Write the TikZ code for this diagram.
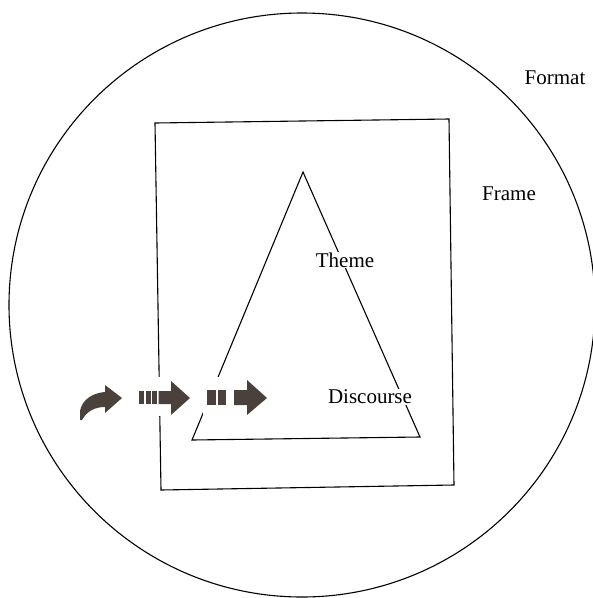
\documentclass[tikz,border=0pt]{standalone}
\usepackage{fontspec}
\setmainfont{Liberation Serif}
\definecolor{arrowc}{RGB}{74,64,60}
\begin{document}
\begin{tikzpicture}[x=1pt,y=-1pt,
  outline/.style={draw=black,line width=1.1pt,line join=miter},
  lbl/.style={font=\fontsize{21}{25}\selectfont,inner sep=1pt},
  clearlbl/.style={lbl,fill=white},
  blockarrow/.style={fill=arrowc,draw=none},
  halo/.style={fill=white,draw=none}]
\useasboundingbox (0,0) rectangle (593,598);
% Format circle
\draw[outline] (302,305) ellipse [x radius=293, y radius=292];
% Frame rectangle (slightly skewed as in the scan)
\draw[outline] (155,123) -- (449,119) -- (454,485) -- (161,490) -- cycle;
% Theme/Discourse triangle
\draw[outline] (303,172) -- (420,437) -- (192,440) -- cycle;
% white halos behind the arrows
\fill[halo] (134,377) rectangle (194,416);
\fill[halo] (203,377) rectangle (270,416);
% curved arrow
\fill[blockarrow] (80,420) -- (80,411) .. controls (82,400) and (92,393) .. (105,392)
  -- (105,385) -- (122,398) -- (105,413) -- (105,407)
  .. controls (95,407) and (87,411) .. (82,420) -- cycle;
% broken arrow 2
\fill[blockarrow] (139,391) rectangle (144,404);
\fill[blockarrow] (145.5,391) rectangle (150.5,404);
\fill[blockarrow] (152,391) rectangle (157,404);
\fill[blockarrow] (158.5,391) -- (171,391) -- (171,381) -- (190,398)
  -- (171,415) -- (171,404) -- (158.5,404) -- cycle;
% broken arrow 3
\fill[blockarrow] (207,390) rectangle (216,405);
\fill[blockarrow] (217.5,390) rectangle (226,405);
\fill[blockarrow] (234,390) -- (247,390) -- (247,380) -- (267,398)
  -- (247,415) -- (247,405) -- (234,405) -- cycle;
% labels
\node[lbl] (format) at (555,78) {Format};
\node[lbl] (frame) at (509,194) {Frame};
\node[clearlbl] (theme) at (345,260) {Theme};
\node[clearlbl] (discourse) at (370,397) {Discourse};
\end{tikzpicture}
\end{document}
